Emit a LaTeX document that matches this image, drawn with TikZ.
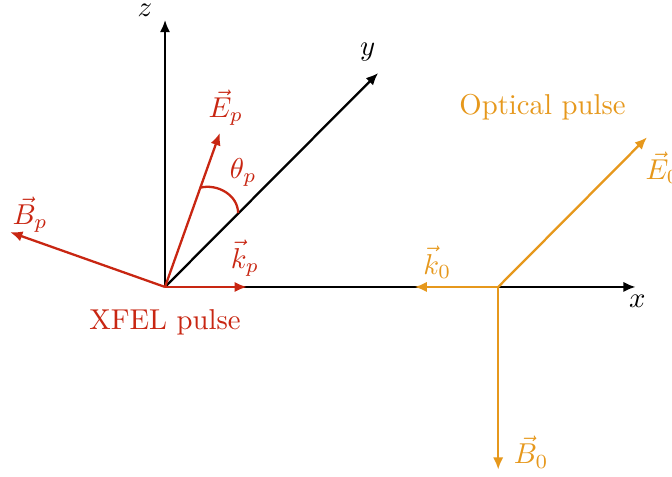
\documentclass[tikz,border=0pt]{standalone}
\usetikzlibrary{arrows.meta}
\definecolor{xfelred}{RGB}{200,38,18}
\definecolor{optorange}{RGB}{230,152,28}
\begin{document}
\begin{tikzpicture}[every node/.style={scale=0.94},
  vec/.style={line width=0.75pt,-{Latex[length=4pt,width=3.4pt]}}]
  \useasboundingbox (-1.897,-2.184) rectangle (5.828,3.299);
  % axes
  \coordinate (O) at (0,0);
  \coordinate (xend) at (5.41,0);
  \coordinate (yend) at (2.45,2.46);
  \coordinate (zend) at (0,3.07);
  \draw[vec] (O) -- (xend);
  \draw[vec] (O) -- (yend);
  \draw[vec] (O) -- (zend);
  \node (xlab) at (5.43,-0.17) {$x$};
  \node (ylab) at (2.33,2.70) {$y$};
  \node (zlab) at (-0.23,3.18) {$z$};

  % XFEL pulse
  \coordinate (Ep) at (0.63,1.77);
  \coordinate (Bp) at (-1.78,0.63);
  \coordinate (kp) at (0.94,0);
  \draw[vec,xfelred] (O) -- (Ep);
  \draw[vec,xfelred] (O) -- (Bp);
  \draw[vec,xfelred] (O) -- (kp);
  \coordinate (thA) at (0.40,1.14);
  \coordinate (thB) at (0.84,0.85);
  \draw[line width=0.75pt,xfelred] (thA) to[out=15,in=90] (thB);
  \node[xfelred] (Eplab) at (0.70,2.06) {$\vec{E}_p$};
  \node[xfelred] (Bplab) at (-1.55,0.83) {$\vec{B}_p$};
  \node[xfelred] (kplab) at (0.92,0.33) {$\vec{k}_p$};
  \node[xfelred] (thlab) at (0.90,1.32) {$\theta_p$};
  \node[xfelred] (xfel) at (0,-0.41) {XFEL pulse};

  % optical pulse
  \coordinate (O0) at (3.83,0);
  \coordinate (E0) at (5.54,1.72);
  \coordinate (k0) at (2.87,0);
  \coordinate (B0) at (3.83,-2.10);
  \draw[vec,optorange] (O0) -- (E0);
  \draw[vec,optorange] (O0) -- (k0);
  \draw[vec,optorange] (O0) -- (B0);
  \node[optorange] (E0lab) at (5.72,1.37) {$\vec{E}_0$};
  \node[optorange] (k0lab) at (3.13,0.28) {$\vec{k}_0$};
  \node[optorange] (B0lab) at (4.21,-1.90) {$\vec{B}_0$};
  \node[optorange] (optical) at (4.34,2.07) {Optical pulse};
\end{tikzpicture}
\end{document}
